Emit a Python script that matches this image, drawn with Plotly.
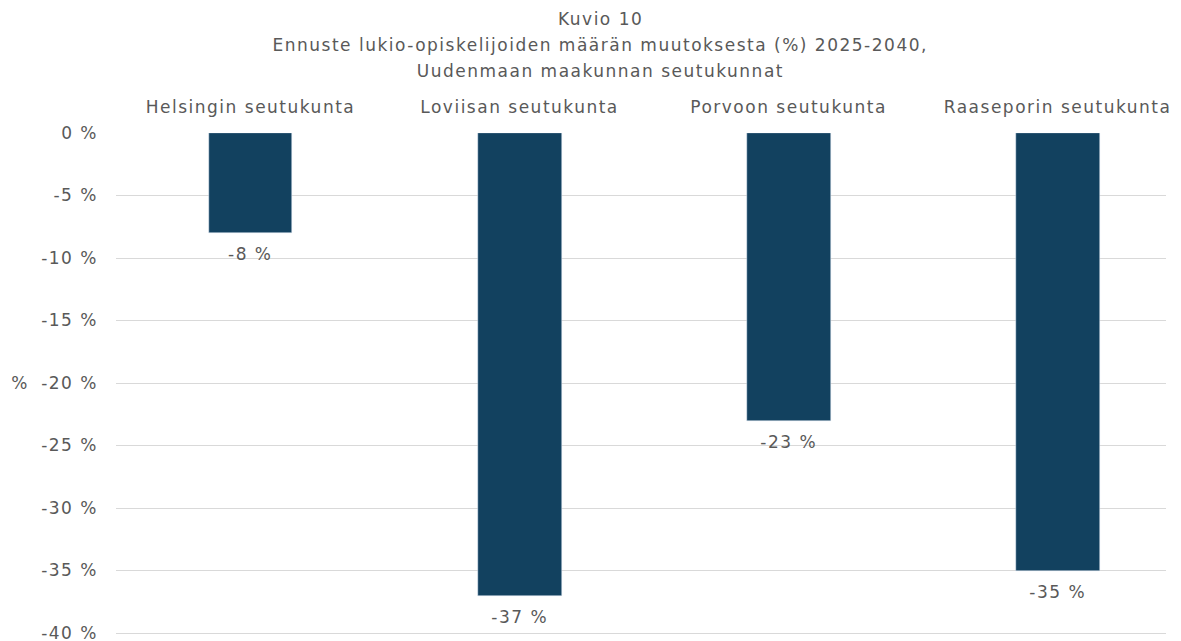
import plotly.graph_objects as go

categories = ["Helsingin seutukunta", "Loviisan seutukunta", "Porvoon seutukunta", "Raaseporin seutukunta"]
values = [-8, -37, -23, -35]
labels = ["-8 %", "-37 %", "-23 %", "-35 %"]
tick_vals = [0, -5, -10, -15, -20, -25, -30, -35, -40]
tick_text = ["0 %", "-5 %", "-10 %", "-15 %", "-20 %", "-25 %", "-30 %", "-35 %", "-40 %"]
title_lines = ["Kuvio 10",
               "Ennuste lukio-opiskelijoiden määrän muutoksesta (%) 2025-2040,",
               "Uudenmaan maakunnan seutukunnat"]

FONT = "DejaVu Sans, sans-serif"
GRAY = "#595959"
FS = 17

# page has 8px body margin; plot area in page coords: x 116..1166, y 133..635
PL, PT, PW, PH = 116, 133, 1050, 502

def px_x(px):
    return (px - PL) / PW

def px_y(py):
    return (PT + PH - py) / PH

fig = go.Figure(go.Bar(
    x=list(range(len(categories))), y=values,
    cliponaxis=False,
    marker=dict(color="#12415F"), width=0.312,
))
for i, (v, t) in enumerate(zip(values, labels)):
    fig.add_annotation(x=i, y=v, xref="x", yref="y", text=t, showarrow=False,
                       yanchor="top", yshift=-9, font=dict(size=FS, color=GRAY, family=FONT))
for k, line in enumerate(title_lines):
    fig.add_annotation(x=px_x(600), y=px_y(19 + 26 * k), xref="paper", yref="paper",
                       text=line, showarrow=False, xanchor="center", yanchor="middle",
                       font=dict(size=FS, color=GRAY, family=FONT))
fig.add_annotation(x=px_x(20), y=px_y(383), xref="paper", yref="paper", text="%",
                   showarrow=False, xanchor="center", yanchor="middle",
                   font=dict(size=FS, color=GRAY, family=FONT))

fig.update_layout(
    width=1173, height=633,
    margin=dict(l=PL - 8, r=15, t=PT - 8, b=6, autoexpand=False),
    paper_bgcolor="white", plot_bgcolor="white",
    font=dict(family=FONT, size=FS, color=GRAY),
    showlegend=False,
    bargap=0,
)
fig.update_xaxes(side="top", tickvals=list(range(len(categories))), ticktext=categories,
                 range=[-0.5, 3.403], showgrid=False, zeroline=False, ticks="", ticklen=0,
                 automargin=False, ticklabelstandoff=16, ticklabeloverflow="allow",
                 tickfont=dict(size=FS, color=GRAY, family=FONT))
fig.update_yaxes(range=[-40.16, 0], tickvals=tick_vals, ticktext=tick_text,
                 showgrid=True, gridcolor="#D9D9D9", gridwidth=1, zeroline=False,
                 ticks="", automargin=False, ticklabelstandoff=17, ticklabeloverflow="allow",
                 tickfont=dict(size=FS, color=GRAY, family=FONT))

post = """
var gd = document.getElementsByClassName('plotly-graph-div')[0];
function spaceText(){
  document.querySelectorAll('.main-svg text').forEach(function(t){ t.style.letterSpacing='1.5px'; });
}
spaceText();
if (gd && gd.on) { gd.on('plotly_afterplot', spaceText); }
"""
fig.write_html("out.html", post_script=post)
